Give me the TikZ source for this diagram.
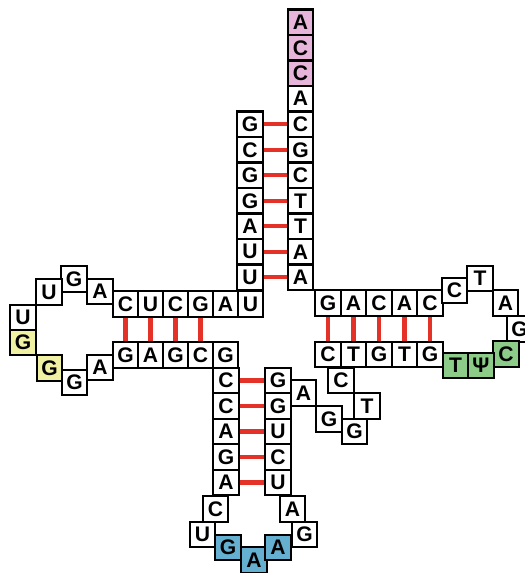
\documentclass[tikz,border=0pt]{standalone}
\usepackage{fontspec}
\setmainfont{Liberation Sans}
\usepackage{tikz}
\usetikzlibrary{positioning}
\definecolor{accpink}{HTML}{E7B5DA}
\definecolor{dyel}{HTML}{F1F1A4}
\definecolor{tgreen}{HTML}{8DCB88}
\definecolor{acblue}{HTML}{65AFD1}
\definecolor{pairred}{HTML}{E53228}

\begin{document}
\begin{tikzpicture}[x=0.02cm,y=-0.02cm,font=\fontsize{12}{14}\selectfont\bfseries,
      nt/.style={draw=black,fill=white,line width=1.2pt,
                 minimum size=5.1mm,inner sep=0pt},
      bp/.style={draw=pairred,line width=2.4pt}]
    \useasboundingbox (0,0) rectangle (524,573);
    % acceptor stem
    \foreach \b/\f [count=\i] in {A/accpink,C/accpink,C/accpink,A/white,C/white,
        G/white,C/white,T/white,T/white,A/white,A/white}{
      \node[nt,fill=\f] (ar\i) at (300.5,{22.25+25.5*(\i-1)}) {\b};}
    \foreach \b [count=\i from 5] in {G,C,G,G,A,U,U}{
      \node[nt] (al\i) at (250,{22.25+25.5*(\i-1)}) {\b};}
    % D arm
    \foreach \b [count=\i] in {U,A,G,C,U,C}{
      \node[nt] (dt\i) at ({250.5-25*(\i-1)},304) {\b};}
    \foreach \b [count=\i] in {G,A,G,C,G}{
      \node[nt] (db\i) at ({125.5+25*(\i-1)},355) {\b};}
    \foreach \b/\x/\y/\f [count=\i] in {A/100/291.5/white,G/74/279/white,
        U/49/292/white,U/23/317.5/white,G/23/342.5/dyel,G/49.5/368/dyel,
        G/74.5/382.5/white,A/100/367.5/white}{
      \node[nt,fill=\f] (dl\i) at (\x,\y) {\b};}
    % anticodon arm
    \foreach \b [count=\i] in {C,C,A,G,A}{
      \node[nt] (cl\i) at (226,{380.5+25.5*(\i-1)}) {\b};}
    \foreach \b [count=\i] in {G,G,U,C,U}{
      \node[nt] (cr\i) at (278,{380.5+25.5*(\i-1)}) {\b};}
    \foreach \b/\x/\y/\f [count=\i] in {C/215.5/509/white,U/202.5/534.5/white,
        G/228/547.5/acblue,A/254/560/acblue,A/278/547.5/acblue,
        G/304.5/534.5/white,A/292.5/509/white}{
      \node[nt,fill=\f] (cp\i) at (\x,\y) {\b};}
    % variable loop
    \foreach \b/\x/\y [count=\i] in {A/303.5/393,G/329/419,G/354.5/431.5,
        T/367/406,C/341/380.5}{
      \node[nt] (v\i) at (\x,\y) {\b};}
    % T arm
    \foreach \b [count=\i] in {G,A,C,A,C}{
      \node[nt] (tt\i) at ({328+25.5*(\i-1)},303) {\b};}
    \foreach \b [count=\i] in {C,T,G,T,G}{
      \node[nt] (tb\i) at ({328+25.5*(\i-1)},354.5) {\b};}
    \foreach \b/\x/\y/\f [count=\i] in {C/454.5/290.5/white,T/480/278.5/white,
        A/505.5/303/white,G/519.5/329/white,C/506/354/tgreen,
        Ψ/481/365.5/tgreen,T/455.5/365.5/tgreen}{
      \node[nt,fill=\f] (tl\i) at (\x,\y) {\b};}
    % base pairs
    \foreach \i in {5,...,11}{\draw[bp] (al\i) -- (ar\i);}
    \foreach \i/\j in {6/1,5/2,4/3,3/4}{\draw[bp] (dt\i) -- (db\j);}
    \foreach \i in {1,...,5}{\draw[bp] (cl\i) -- (cr\i);}
    \foreach \i in {1,...,5}{\draw[bp] (tt\i) -- (tb\i);}
  \end{tikzpicture}
\end{document}
